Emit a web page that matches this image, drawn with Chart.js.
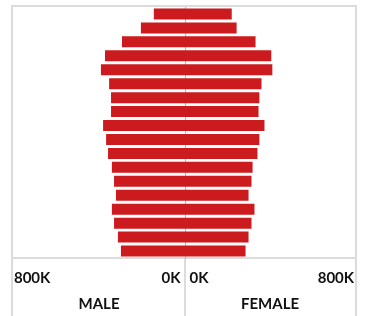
<!doctype html>
<html>
  <head>
    <script src="https://cdn.jsdelivr.net/npm/chart.js"></script>
    <style>
      body { margin: 0; background: #fff; }
      #frame { position: absolute; left: 11px; top: 5px; width: 342px; height: 311px;
               border: 2px solid #dcdcdc; border-bottom: none; }
      #maleBox { position: absolute; left: 0px; top: 0px; }
      #femaleBox { position: absolute; left: 172px; top: 0px; }
      #stem { position: absolute; left: 171px; top: 252px; width: 2px; height: 60px; background: #dcdcdc; }
    </style>
    <script>
      // age groups, oldest at the top
      var agegroups = ['85+','80-84','75-79','70-74','65-69','60-64','55-59','50-54','45-49',
                       '40-44','35-39','30-34','25-29','20-24','15-19','10-14','5-9','0-4'];
      var maledata = [145000,205000,293000,372000,391000,353000,344000,344000,381000,
                      367000,358000,340000,330000,321000,340000,330000,312000,298000];
      var femaledata = [220000,243000,332000,406000,411000,360000,350000,346000,374000,
                        350000,341000,318000,313000,299000,327000,313000,299000,285000];
      var barcolor = '#cb1b1f';
      var axismax = 800000;

      function makeside(canvasid, values, title, isleft){
        // male side is drawn as negative values so the axis grows to the left
        var plotted = values.map(function(v){ return isleft ? -v : v; });
        return new Chart(document.getElementById(canvasid), {
          type: 'bar',
          data: {
            labels: agegroups,
            datasets: [{
              data: plotted,
              backgroundColor: barcolor,
              barPercentage: 0.79,
              categoryPercentage: 1
            }]
          },
          options: {
            indexAxis: 'y',
            responsive: false,
            animation: false,
            layout: { padding: 0 },
            plugins: { legend: { display: false }, tooltip: { enabled: false } },
            scales: {
              x: {
                min: isleft ? -axismax : 0,
                max: isleft ? 0 : axismax,
                grid: { display: false, drawTicks: true, tickLength: 11 },
                border: { display: true, color: '#dcdcdc', width: 2 },
                afterFit: function(scale){ scale.height = 58; },
                ticks: {
                  stepSize: axismax,
                  align: 'inner',
                  maxRotation: 0,
                  autoSkip: false,
                  padding: 0,
                  color: '#111',
                  font: { family: 'Lato', size: 15, weight: 'bold' },
                  callback: function(v){
                    var txt = (Math.abs(v)/1000) + 'K';
                    // small gaps so the labels sit off the frame lines
                    if (v == 0) return isleft ? txt + ' \u200A' : '\u200A ' + txt;
                    return isleft ? '\u200A' + txt : txt + '\u200A';
                  }
                },
                title: {
                  display: true,
                  text: title,
                  color: '#111',
                  padding: { top: 0, bottom: 3 },
                  font: { family: 'Lato', size: 15, weight: 'bold' }
                }
              },
              y: {
                position: isleft ? 'right' : 'left',
                grid: { display: false, drawTicks: false },
                border: { display: true, color: '#b8b8b8', width: 1 },
                afterFit: function(scale){ scale.width = 0; },
                ticks: { display: false, padding: 0 }
              }
            }
          }
        });
      }

      window.onload = function(){
        makeside('maleChart', maledata, 'MALE', true);
        makeside('femaleChart', femaledata, 'FEMALE', false);
      };
    </script>
    <title>Population pyramid</title>
  </head>
  <body>
    <div id="frame">
      <div id="maleBox"><canvas id="maleChart" width="172" height="309"></canvas></div>
      <div id="femaleBox"><canvas id="femaleChart" width="170" height="309"></canvas></div>
      <div id="stem"></div>
    </div>
  </body>
</html>
